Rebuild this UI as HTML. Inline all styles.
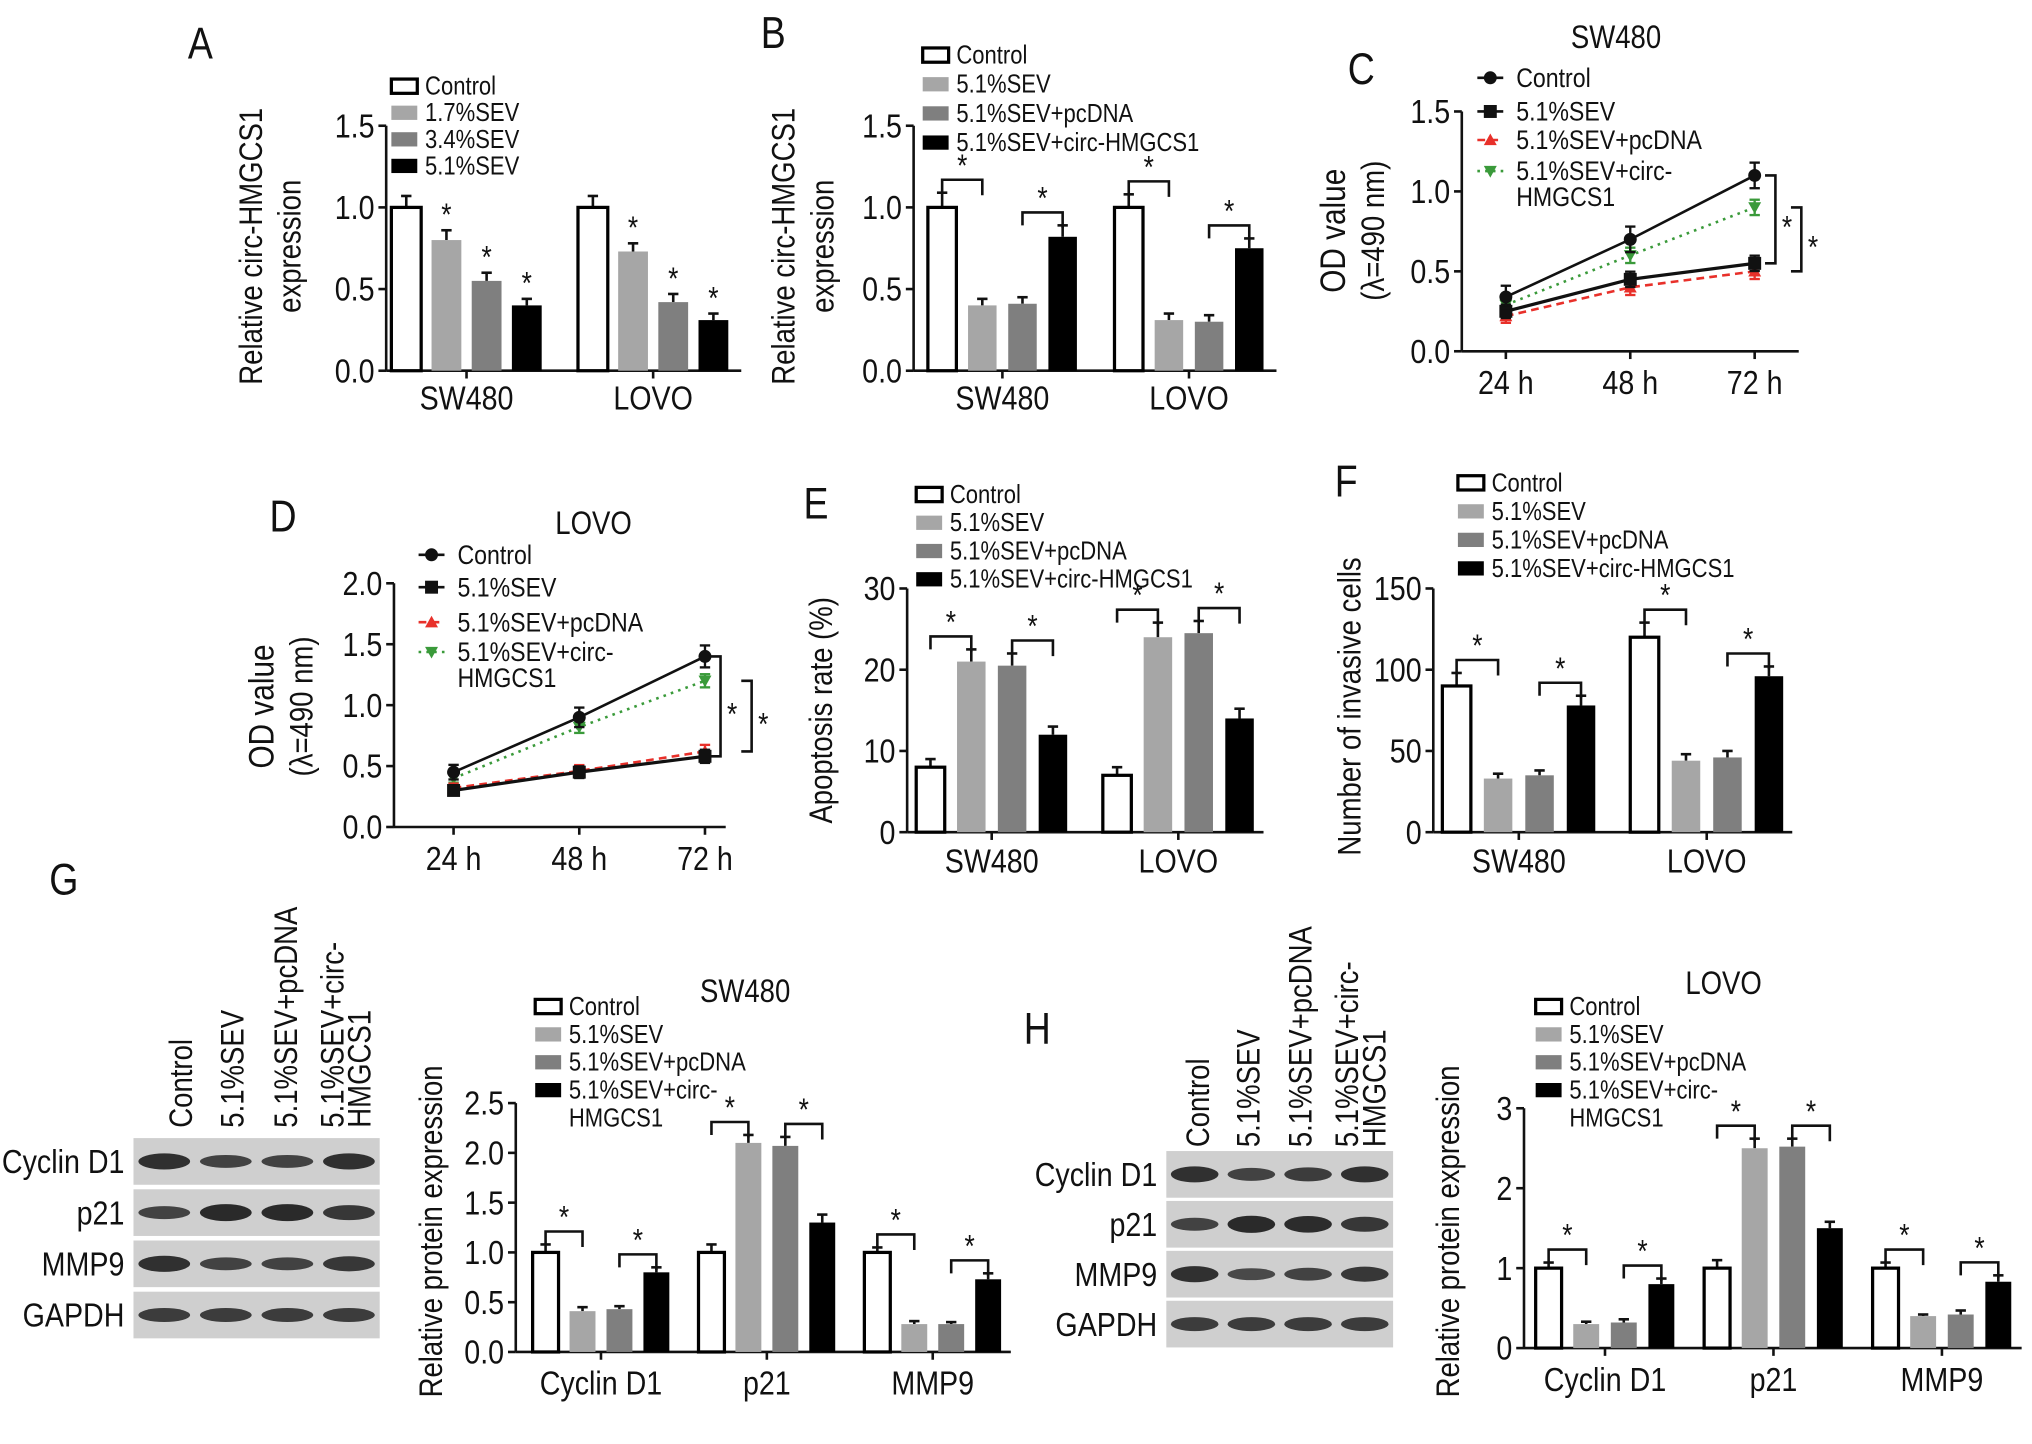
<!DOCTYPE html>
<html><head><meta charset="utf-8">
<style>
html,body{margin:0;padding:0;background:#fff;}
svg{display:block;font-family:"Liberation Sans",Arial,sans-serif;}
</style></head>
<body>
<svg id="fig" xmlns="http://www.w3.org/2000/svg" width="2032" height="1444" viewBox="0 0 1568 1114" preserveAspectRatio="none"></svg>
<script>
// ---------- DATA ----------
const groupsCell = ['SW480','LOVO'];
const groupsProt = ['Cyclin D1','p21','MMP9'];
const timeLabels = ['24 h','48 h','72 h'];
const seriesA = ['Control','1.7%SEV','3.4%SEV','5.1%SEV'];
const seriesB = ['Control','5.1%SEV','5.1%SEV+pcDNA','5.1%SEV+circ-HMGCS1'];
// Panel A
const valA = [[1.0,0.80,0.55,0.40],[1.0,0.73,0.42,0.31]];
const errA = [[0.07,0.06,0.05,0.04],[0.07,0.05,0.05,0.04]];
// Panel B
const valB = [[1.0,0.40,0.41,0.82],[1.0,0.31,0.30,0.75]];
const errB = [[0.09,0.04,0.04,0.07],[0.08,0.04,0.04,0.06]];
// Panel C (SW480 OD)
const cControl=[0.34,0.70,1.10], cSEV=[0.25,0.45,0.55], cPc=[0.22,0.40,0.50], cCirc=[0.29,0.60,0.90];
const cErr=[0.07,0.08,0.08];
// Panel D (LOVO OD)
const dControl=[0.45,0.90,1.40], dSEV=[0.30,0.45,0.58], dPc=[0.32,0.46,0.62], dCirc=[0.40,0.82,1.20];
const dErr=[0.06,0.08,0.09];
// Panel E apoptosis
const valE = [[8,21,20.5,12],[7,24,24.5,14]];
const errE = [[1,1.5,1.5,1],[1,1.8,1.5,1.2]];
// Panel F invasion
const valF = [[90,33,35,78],[120,44,46,96]];
const errF = [[8,3,3,6],[9,4,4,6]];
// Panel G
const valG = [[1.0,0.41,0.43,0.80],[1.0,2.10,2.07,1.30],[1.0,0.28,0.28,0.73]];
const errG = [[0.08,0.04,0.03,0.05],[0.08,0.08,0.09,0.08],[0.05,0.03,0.02,0.06]];
// Panel H
const valH = [[1.0,0.30,0.32,0.80],[1.0,2.50,2.52,1.50],[1.0,0.40,0.42,0.83]];
const errH = [[0.07,0.03,0.04,0.07],[0.1,0.12,0.1,0.08],[0.07,0.02,0.05,0.08]];

const fills4 = ['#ffffff','#a6a6a6','#7f7f7f','#000000'];

// ---------- HELPERS ----------
const NS='http://www.w3.org/2000/svg';
const svg=document.getElementById('fig');
const SX=0.85;
function mk(tag, attrs, parent, name, inter){
  const e=document.createElementNS(NS,tag);
  for(const k in attrs) e.setAttribute(k,attrs[k]);
  
  
  (parent||svg).appendChild(e);
  return e;
}
function txt(x,y,s,size,anchor,name,parent,rot,extra){
  const a={x:x,y:y,'font-size':size,'text-anchor':anchor||'start',fill:'#111'};
  let tr='';
  if(rot) tr='rotate('+rot+' '+x+' '+y+') ';
  tr+='translate('+x+' '+y+') scale('+SX+' 1) translate('+(-x)+' '+(-y)+')';
  a.transform=tr;
  if(extra) for(const k in extra) a[k]=extra[k];
  const t=mk('text',a,parent,name);
  t.textContent=s; return t;
}
function line(x1,y1,x2,y2,name,parent,w,col,dash){
  const a={x1:x1,y1:y1,x2:x2,y2:y2,stroke:col||'#111','stroke-width':w||2};
  if(dash) a['stroke-dasharray']=dash;
  return mk('line',a,parent,name);
}
function yAxis(g,ax,y0,yTop,max,ticks,fmt,name){
  line(ax,y0,ax,yTop,name+'-y-axis',g);
  ticks.forEach(v=>{
    const y=y0-v/max*(y0-yTop);
    line(ax-6,y,ax,y,'y-tick',g);
    txt(ax-9,y+9,fmt(v),26,'end','y-tick-label',g);
  });
}
function legendBar(g,x,y0,step,labels,fills,size,extraLine){
  labels.forEach((s,i)=>{
    const y=y0+i*step;
    mk('rect',{x:x,y:y-5,width:20,height:11,fill:fills[i],stroke:'#000','stroke-width':fills[i]==='#ffffff'?2.5:0},g,'legend-swatch');
    txt(x+26,y+7,s,size,'start','legend-entry',g);
  });
  if(extraLine) txt(x+26,y0+labels.length*step+7,extraLine,size,'start','legend-entry-cont',g);
}
function barChart(o){
  const g=mk('g',{},svg,o.name);
  const ys=v=>o.y0-v/o.max*(o.y0-o.yTop);
  yAxis(g,o.ax,o.y0,o.yTop,o.max,o.ticks,o.fmt,o.name);
  line(o.ax,o.y0,o.xEnd,o.y0,o.name+'-x-axis',g);
  o.groups.forEach((gn,gi)=>{
    const gs=o.ax+o.pad+gi*o.gStep;
    const cx=gs+(3*o.bStep+o.bw)/2;
    line(cx,o.y0,cx,o.y0+6,'x-tick',g);
    txt(cx,o.y0+o.lblOff,gn,26,'middle','x-group-label',g);
    o.vals[gi].forEach((v,i)=>{
      const x=gs+i*o.bStep, y=ys(v), e=ys(v+o.errs[gi][i]);
      line(x+o.bw/2,y,x+o.bw/2,e,'error-bar',g,2);
      line(x+o.bw/2-4,e,x+o.bw/2+4,e,'error-cap',g,2);
      mk('rect',{x:x,y:y,width:o.bw,height:o.y0-y,fill:fills4[i],stroke:i===0?'#000':'none','stroke-width':2.5},g,'bar-'+gn.replace(/\s/g,'').toLowerCase()+'-'+i);
      if(o.starsEach && i>0) txt(x+o.bw/2,e-4,'*',24,'middle','significance-star',g);
    });
    if(o.pairs){
      [[0,1],[2,3]].forEach(p=>{
        const xa=gs+p[0]*o.bStep+o.bw/2, xb=gs+p[1]*o.bStep+o.bw/2;
        const top=Math.min(ys(o.vals[gi][p[0]]+o.errs[gi][p[0]]),ys(o.vals[gi][p[1]]+o.errs[gi][p[1]]))-10;
        const path='M'+xa+' '+(top+10)+' L'+xa+' '+top+' L'+xb+' '+top+' L'+xb+' '+(top+12);
        mk('path',{d:path,fill:'none',stroke:'#111','stroke-width':2},g,'significance-bracket');
        txt((xa+xb)/2,top-3,'*',24,'middle','significance-star',g);
      });
    }
  });
  return g;
}
function marker(g,type,x,y,col){
  if(type==='circle') mk('circle',{cx:x,cy:y,r:5,fill:col},g,'marker-circle');
  else if(type==='square') mk('rect',{x:x-5,y:y-5,width:10,height:10,fill:col},g,'marker-square');
  else if(type==='up') mk('path',{d:'M'+x+' '+(y-5)+' L'+(x+5)+' '+(y+4)+' L'+(x-5)+' '+(y+4)+'Z',fill:col},g,'marker-triangle');
  else mk('path',{d:'M'+x+' '+(y+5)+' L'+(x+5)+' '+(y-4)+' L'+(x-5)+' '+(y-4)+'Z',fill:col},g,'marker-triangle-down');
}
const lineStyles=[
  {col:'#111',dash:null,m:'circle',w:2},
  {col:'#111',dash:null,m:'square',w:2.5},
  {col:'#e8302a',dash:'6,4',m:'up',w:2},
  {col:'#3a9a3a',dash:'2,4',m:'down',w:2}
];
function lineChart(o){
  const g=mk('g',{},svg,o.name);
  const ys=v=>o.y0-v/o.max*(o.y0-o.yTop);
  const xs=i=>o.x0+i*o.xStep;
  yAxis(g,o.ax,o.y0,o.yTop,o.max,o.ticks,v=>v.toFixed(1),o.name);
  line(o.ax,o.y0,o.xEnd,o.y0,o.name+'-x-axis',g);
  timeLabels.forEach((t,i)=>{line(xs(i),o.y0,xs(i),o.y0+6,'x-tick',g);txt(xs(i),o.y0+33,t,26,'middle','x-tick-label',g);});
  [3,2,1,0].forEach(si=>{
    const st=lineStyles[si], d=o.series[si];
    const pts=d.map((v,i)=>xs(i)+','+ys(v)).join(' ');
    mk('polyline',{points:pts,fill:'none',stroke:st.col,'stroke-width':st.w,'stroke-dasharray':st.dash||'none'},g,'series-line-'+si);
    d.forEach((v,i)=>{
      const e=o.err[i]*(si===0?1:0.6);
      line(xs(i),ys(v-e),xs(i),ys(v+e),'error-bar',g,1.8,st.col);
      line(xs(i)-4,ys(v+e),xs(i)+4,ys(v+e),'error-cap',g,1.8,st.col);
      line(xs(i)-4,ys(v-e),xs(i)+4,ys(v-e),'error-cap',g,1.8,st.col);
      marker(g,st.m,xs(i),ys(v),st.col);
    });
  });
  const labels=['Control','5.1%SEV','5.1%SEV+pcDNA','5.1%SEV+circ-'];
  labels.forEach((s,i)=>{
    const y=o.legY[i], st=lineStyles[i];
    line(o.legX-10,y,o.legX+10,y,'legend-line',g,2,st.col,st.dash);
    marker(g,st.m,o.legX,y,st.col);
    txt(o.legX+20,y+7,s,21,'start','legend-entry',g);
  });
  txt(o.legX+20,o.legY[3]+27,'HMGCS1',21,'start','legend-entry-cont',g);
  o.brackets.forEach(b=>{
    const ya=ys(o.series[b[0]][2]), yb=ys(o.series[b[1]][2]);
    const p='M'+(b[2]-8)+' '+ya+' L'+b[2]+' '+ya+' L'+b[2]+' '+yb+' L'+(b[2]-8)+' '+yb;
    mk('path',{d:p,fill:'none',stroke:'#111','stroke-width':2},g,'significance-bracket');
    txt(b[2]+9,(ya+yb)/2+14,'*',24,'middle','significance-star',g);
  });
}
function blot(x,y,w,rowH,gap,rows,intens,name){
  const g=mk('g',{},svg,name);
  rows.forEach((r,ri)=>{
    const ry=y+ri*(rowH+gap);
    mk('rect',{x:x,y:ry,width:w,height:rowH,fill:'#cfcfcf'},g,'blot-row-'+r.toLowerCase().replace(/\s/g,''));
    txt(x-7,ry+rowH/2+9,r,26,'end','blot-row-label',g);
    intens[ri].forEach((k,li)=>{
      const lw=w/4, cx=x+lw*li+lw/2;
      mk('ellipse',{cx:cx,cy:ry+rowH/2,rx:lw*0.42,ry:3+k*4,fill:'#1a1a1a',opacity:0.6+k*0.35},g,'blot-band');
    });
  });
  return g;
}
function colLabels(xs,yb,labels,name){
  labels.forEach((s,i)=>txt(xs[i],yb,s,25,'start',name,null,-90));
}

// ---------- PANEL LETTERS ----------
[['A',145,45],['B',587,37],['C',1040,65],['D',208,410],['E',620,400],['F',1030,383],['G',38,690],['H',790,805]].forEach(p=>txt(p[1],p[2],p[0],34,'start','panel-label-'+p[0].toLowerCase()));

// ---------- A ----------
barChart({name:'panel-a',ax:298,y0:286,yTop:97,max:1.5,ticks:[0,0.5,1,1.5],fmt:v=>v.toFixed(1),xEnd:572,pad:4,gStep:144,bStep:31,bw:23,groups:groupsCell,vals:valA,errs:errA,starsEach:true,lblOff:30});
legendBar(svg,302,66,20.5,seriesA,fills4,20);
txt(202,190,'Relative circ-HMGCS1',25,'middle','y-axis-title-a',null,-90);
txt(232,190,'expression',25,'middle','y-axis-title-a2',null,-90);

// ---------- B ----------
barChart({name:'panel-b',ax:705,y0:286,yTop:97,max:1.5,ticks:[0,0.5,1,1.5],fmt:v=>v.toFixed(1),xEnd:985,pad:11,gStep:144,bStep:31,bw:22,groups:groupsCell,vals:valB,errs:errB,pairs:true,lblOff:30});
legendBar(svg,712,42,22.5,seriesB.slice(0,4),fills4,20);
txt(613,190,'Relative circ-HMGCS1',25,'middle','y-axis-title-b',null,-90);
txt(643,190,'expression',25,'middle','y-axis-title-b2',null,-90);

// ---------- C ----------
txt(1247,37,'SW480',25,'middle','chart-title-c');
lineChart({name:'panel-c',ax:1128,y0:271,yTop:86,max:1.5,ticks:[0,0.5,1,1.5],x0:1162,xStep:96,xEnd:1388,series:[cControl,cSEV,cPc,cCirc],err:cErr,legX:1150,legY:[60,86,108,132],brackets:[[0,1,1370],[3,2,1390]]});
txt(1038,178,'OD value',27,'middle','y-axis-title-c',null,-90);
txt(1068,178,'(\u03bb=490 nm)',25,'middle','y-axis-title-c2',null,-90);

// ---------- D ----------
txt(458,412,'LOVO',25,'middle','chart-title-d');
lineChart({name:'panel-d',ax:304,y0:638,yTop:450,max:2.0,ticks:[0,0.5,1,1.5,2],x0:350,xStep:97,xEnd:560,series:[dControl,dSEV,dPc,dCirc],err:dErr,legX:333,legY:[428,453,480,503],brackets:[[0,1,556],[3,2,580]]});
txt(211,545,'OD value',27,'middle','y-axis-title-d',null,-90);
txt(241,545,'(\u03bb=490 nm)',25,'middle','y-axis-title-d2',null,-90);

// ---------- E ----------
barChart({name:'panel-e',ax:700,y0:642,yTop:454,max:30,ticks:[0,10,20,30],fmt:v=>String(v),xEnd:975,pad:7,gStep:144,bStep:31.5,bw:22,groups:groupsCell,vals:valE,errs:errE,pairs:true,lblOff:31});
legendBar(svg,707,381,21.8,seriesB,fills4,20);
txt(642,548,'Apoptosis rate (%)',25,'middle','y-axis-title-e',null,-90);

// ---------- F ----------
barChart({name:'panel-f',ax:1106,y0:642,yTop:454,max:150,ticks:[0,50,100,150],fmt:v=>String(v),xEnd:1383,pad:7,gStep:145,bStep:32,bw:22,groups:groupsCell,vals:valF,errs:errF,pairs:true,lblOff:31});
legendBar(svg,1125,372,22,seriesB,fills4,20);
txt(1050,545,'Number of invasive cells',25,'middle','y-axis-title-f',null,-90);

// ---------- G ----------
colLabels([148,188,229,265],870,['Control','5.1%SEV','5.1%SEV+pcDNA','5.1%SEV+circ-'],'blot-column-label');
txt(286,870,'HMGCS1',25,'start','blot-column-label',null,-90);
blot(103,878,190,36,3.5,['Cyclin D1','p21','MMP9','GAPDH'],[[0.8,0.5,0.5,0.8],[0.5,0.9,0.9,0.7],[0.8,0.5,0.5,0.7],[0.6,0.6,0.6,0.6]],'western-blot-g');
txt(575,773,'SW480',25,'middle','chart-title-g');
barChart({name:'panel-g',ax:398,y0:1043,yTop:851,max:2.5,ticks:[0,0.5,1,1.5,2,2.5],fmt:v=>v.toFixed(1),xEnd:780,pad:13,gStep:128,bStep:28.5,bw:20,groups:groupsProt,vals:valG,errs:errG,pairs:true,lblOff:33});
legendBar(svg,413,776,21.5,['Control','5.1%SEV','5.1%SEV+pcDNA','5.1%SEV+circ-'],fills4,20,'HMGCS1');
txt(341,950,'Relative protein expression',25,'middle','y-axis-title-g',null,-90);

// ---------- H ----------
colLabels([933,972,1012,1048],885,['Control','5.1%SEV','5.1%SEV+pcDNA','5.1%SEV+circ-'],'blot-column-label');
txt(1069,885,'HMGCS1',25,'start','blot-column-label',null,-90);
blot(900,888,175,36,2.5,['Cyclin D1','p21','MMP9','GAPDH'],[[0.8,0.5,0.6,0.8],[0.5,0.9,0.85,0.7],[0.8,0.4,0.5,0.7],[0.6,0.6,0.6,0.6]],'western-blot-h');
txt(1330,767,'LOVO',25,'middle','chart-title-h');
barChart({name:'panel-h',ax:1176,y0:1040,yTop:855,max:3,ticks:[0,1,2,3],fmt:v=>String(v),xEnd:1560,pad:9,gStep:130,bStep:29,bw:20,groups:groupsProt,vals:valH,errs:errH,pairs:true,lblOff:33});
legendBar(svg,1185,776,21.5,['Control','5.1%SEV','5.1%SEV+pcDNA','5.1%SEV+circ-'],fills4,20,'HMGCS1');
txt(1126,950,'Relative protein expression',25,'middle','y-axis-title-h',null,-90);
</script>
</body></html>
